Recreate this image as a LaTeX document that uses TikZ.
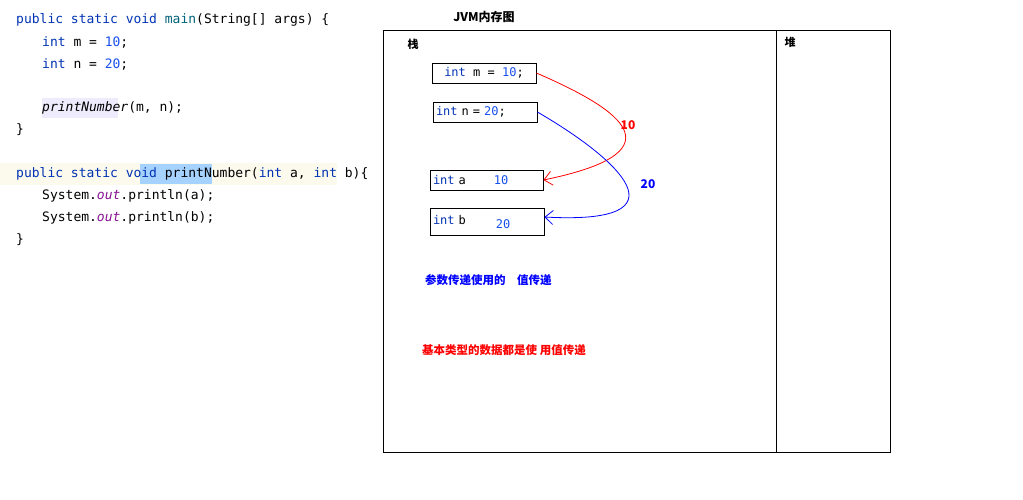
\documentclass[tikz,border=0pt]{standalone}
\usepackage{fontspec}
\setmonofont{DejaVu Sans Mono}
\newfontfamily\cjk{Noto Sans CJK SC}
\usetikzlibrary{arrows.meta}
\definecolor{kw}{RGB}{0,51,179}
\definecolor{num}{RGB}{23,80,235}
\definecolor{mth}{RGB}{0,98,122}
\definecolor{fld}{RGB}{135,16,148}
\definecolor{hlsel}{RGB}{166,210,255}
\definecolor{hlline}{RGB}{252,250,237}
\definecolor{hlcall}{RGB}{237,235,252}
\tikzset{
    code/.style={anchor=west, inner sep=0pt, font=\ttfamily\fontsize{13}{15}\selectfont},
    membox/.style={draw, thick, minimum height=20pt, inner sep=2pt, font=\ttfamily\fontsize{12}{14}\selectfont},
    note/.style={anchor=west, inner sep=0pt, font=\cjk\bfseries\fontsize{11.5}{13}\selectfont},
    pass/.style={thick, -{Straight Barb[length=8pt,width=14pt]}},
}
\begin{document}
\begin{tikzpicture}[x=1pt,y=-1pt]
\useasboundingbox (0,0) rectangle (1023,500);
% highlights
\fill[hlline] (0,163) rectangle (337,185);
\fill[hlsel] (140,164) rectangle (212,184);
\fill[hlcall] (42,98) rectangle (118,118);

% source code
\node[code] (l1) at (16,20) {\textcolor{kw}{public static void} \textcolor{mth}{main}(String[] args) \{};
\node[code] (l2) at (42,42) {\textcolor{kw}{int} m = \textcolor{num}{10};};
\node[code] (l3) at (42,64) {\textcolor{kw}{int} n = \textcolor{num}{20};};
\node[code] (l4) at (42,108) {\textit{printNumber}(m, n);};
\node[code] (l5) at (16,130) {\}};
\node[code] (l6) at (16,174) {\textcolor{kw}{public static void} printNumber(\textcolor{kw}{int} a, \textcolor{kw}{int} b)\{};
\node[code] (l7) at (42,196) {System.\textcolor{fld}{\textit{out}}.println(a);};
\node[code] (l8) at (42,218) {System.\textcolor{fld}{\textit{out}}.println(b);};
\node[code] (l9) at (16,240) {\}};

% memory frame
\node[font=\bfseries\cjk\fontsize{12}{14}\selectfont] (title) at (484,17) {JVM内存图};
\draw[thick] (383,30) rectangle (890,452);
\draw[thick] (776,30) -- (776,452);
\node[font=\cjk\bfseries\fontsize{11}{13}\selectfont] (stack) at (413,44) {栈};
\node[font=\cjk\bfseries\fontsize{11}{13}\selectfont] (heap) at (790,42) {堆};

% stack slots
\node[membox, minimum width=104pt] (m) at (484,73) {\textcolor{kw}{int} m = \textcolor{num}{10};};
\node[membox, minimum width=104pt, text width=98pt] (n) at (485,112) {\textcolor{kw}{int} n = \textcolor{num}{20};};
\node[membox, minimum width=113pt, text width=107pt] (a) at (486.5,180) {\textcolor{kw}{int} a\hspace{28pt}\textcolor{num}{10}};
\node[membox, minimum width=114pt, minimum height=27pt, text width=108pt] (b) at (487,222) {\textcolor{kw}{int} b\hspace{30pt}\raisebox{-4pt}{\textcolor{num}{20}}};

% value passing
\draw[pass, red] (m.east) .. controls (610,105) and (690,150) .. (a.east);
\draw[pass, blue] (n.east) .. controls (620,160) and (690,225) .. ([yshift=5pt]b.east);
\node[font=\cjk\bfseries\fontsize{12}{14}\selectfont, red] (v10) at (628,125) {10};
\node[font=\cjk\bfseries\fontsize{12}{14}\selectfont, blue] (v20) at (648,184) {20};

% notes
\node[note, blue] (n1) at (425,280) {参数传递使用的\quad 值传递};
\node[note, red] (n2) at (422,350) {基本类型的数据都是使 用值传递};
\end{tikzpicture}
\end{document}
